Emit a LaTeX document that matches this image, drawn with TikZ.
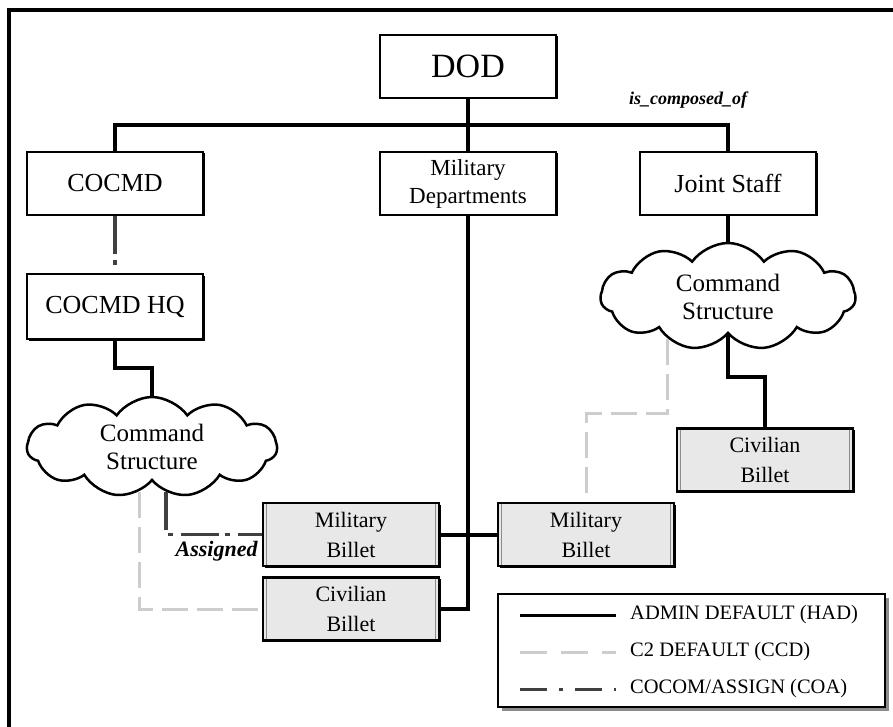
\documentclass[tikz,border=0pt]{standalone}
\usepackage{fontspec}
\setmainfont{Liberation Serif}
\usetikzlibrary{positioning,calc,shapes,shadows}
\definecolor{myccd}{RGB}{205,205,205}
\definecolor{mycoa}{RGB}{64,64,64}
\definecolor{mybillet}{RGB}{232,232,232}
\tikzstyle{box}=[draw,fill=white,line width=2.5pt,inner sep=0pt,minimum width=176pt,minimum height=63pt,align=center,font=\fontsize{26}{30}\selectfont,drop shadow={shadow xshift=1.5pt,shadow yshift=-1.5pt,opacity=1,fill=black}]
\tikzstyle{billet}=[box,fill=mybillet,font=\fontsize{22}{30}\selectfont,path picture={
  \draw[black!45,line width=1pt] ([xshift=3.5pt]path picture bounding box.north west) -- ([xshift=3.5pt]path picture bounding box.south west)
    ([xshift=-3.5pt]path picture bounding box.north east) -- ([xshift=-3.5pt]path picture bounding box.south east);}]
\tikzstyle{cmdcloud}=[cloud,draw,fill=white,line width=2.5pt,cloud puffs=11,cloud puff arc=110,aspect=2.5,inner sep=0pt,minimum width=250pt,minimum height=100pt,align=center,font=\fontsize{25}{28}\selectfont]
\tikzstyle{had}=[line width=4pt]
\tikzstyle{ccd}=[line width=3pt,draw=myccd,dash pattern=on 26pt off 9pt]
\tikzstyle{coa}=[line width=3.5pt,draw=mycoa,dash pattern=on 38pt off 6pt on 5pt off 8pt]
\tikzstyle{lbl}=[inner sep=0pt,font=\fontsize{22}{24}\selectfont\bfseries\itshape]
\tikzstyle{legendbox}=[draw,fill=white,line width=2.5pt,minimum width=387pt,minimum height=113pt,drop shadow={shadow xshift=4pt,shadow yshift=-4pt,opacity=1,fill=black!45}]
\tikzstyle{legtxt}=[anchor=west,inner sep=0pt,font=\fontsize{20.5}{22}\selectfont]

\begin{document}
\begin{tikzpicture}[x=1pt,y=-1pt]
      \useasboundingbox (0,0) rectangle (893,727);
      \draw[line width=4pt] (9,727) -- (9,10) -- (893,10);

      \node (dod) at (468,66.5) [box,font=\fontsize{34}{36}\selectfont] {DOD};
      \node (cocmd) at (115,183.5) [box] {COCMD};
      \node (mildep) at (468,183.5) [box,font=\fontsize{23}{28}\selectfont] {Military\\Departments};
      \node (jstaff) at (728,183.5) [box] {Joint Staff};
      \node (cocmdhq) at (115,306.5) [box,minimum height=65pt] {COCMD HQ};
      \node (cloudL) at (152,447) [cmdcloud] {Command\\Structure};
      \node (milL) at (351,534.5) [billet] {Military\\Billet};
      \node (civL) [billet,below=9pt of milL] {Civilian\\Billet};
      \node (milR) at (586,534.5) [billet] {Military\\Billet};
      \node (cloudR) at (728,296.5) [cmdcloud,minimum width=255pt,minimum height=107pt] {Command\\Structure};
      \node (civR) at (765,460) [billet] {Civilian\\Billet};

      \node (iscomp) at (688,100) [lbl,font=\fontsize{18}{20}\selectfont\bfseries\itshape] {is\_composed\_of};
      \node (assigned) at ($(milL.west)+(-4,17)$) [lbl,anchor=east] {Assigned};

      \draw[had] (dod.south) -- (mildep.north);
      \draw[had] (cocmd.north) -- ++(0,-26) -| (jstaff.north);
      \draw[coa] (cocmd.south) -- (cocmdhq.north);
      \draw[had] (cocmdhq.south) -- ++(0,28) -| (cloudL.north);
      \draw[ccd] (cloudL.254) |- (civL.west);
      \draw[coa] (cloudL.287) |- (milL.west);
      \draw[had] (mildep.south) |- (civL.east);
      \draw[had] (milL.east) -- (milR.west);
      \draw[had] (jstaff.south) -- (cloudR.north);
      \draw[had] (cloudR.south) -- ++(0,42) -| (civR.north);
      \coordinate (ccdR) at (586,413);
      \draw[ccd] (cloudR.215) |- (ccdR) -- (milR.north);

      % legend
      \node (legend) at (691.5,650.5) [legendbox] {};
      \node (lhad) at (630,615) [legtxt] {ADMIN DEFAULT (HAD)};
      \node (lccd) at (630,652) [legtxt] {C2 DEFAULT (CCD)};
      \node (lcoa) at (630,689) [legtxt] {COCOM/ASSIGN (COA)};
      \draw[line width=3pt] ([xshift=-110pt]lhad.west) -- ([xshift=-14pt]lhad.west);
      \draw[line width=3pt,draw=myccd,dash pattern=on 27pt off 14pt] ([xshift=-110pt]lccd.west) -- ([xshift=-14pt]lccd.west);
      \draw[line width=3pt,draw=mycoa,dash pattern=on 27pt off 12pt on 4pt off 12pt] ([xshift=-110pt]lcoa.west) -- ([xshift=-14pt]lcoa.west);
    \end{tikzpicture}
\end{document}
